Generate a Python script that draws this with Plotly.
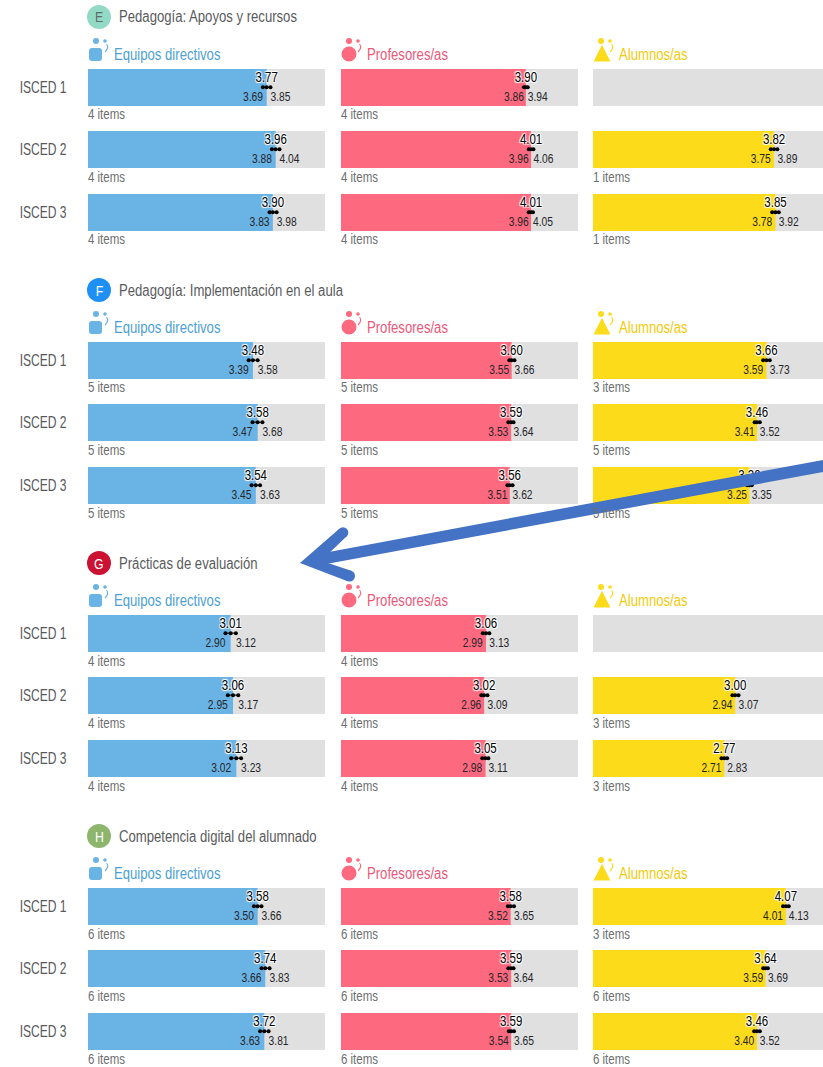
import plotly.graph_objects as go

W, H = 823, 1067
FONT = "Liberation Sans, sans-serif"

levels = ["ISCED 1", "ISCED 2", "ISCED 3"]
groups = ["Equipos directivos", "Profesores/as", "Alumnos/as"]
section_letters = ["E", "F", "G", "H"]
section_titles = ["Pedagogía: Apoyos y recursos", "Pedagogía: Implementación en el aula",
                  "Prácticas de evaluación", "Competencia digital del alumnado"]

e_mean = [[3.77, 3.96, 3.90], [3.90, 4.01, 4.01], [None, 3.82, 3.85]]
e_low = [[3.69, 3.88, 3.83], [3.86, 3.96, 3.96], [None, 3.75, 3.78]]
e_high = [[3.85, 4.04, 3.98], [3.94, 4.06, 4.05], [None, 3.89, 3.92]]
e_items = [[4, 4, 4], [4, 4, 4], [None, 1, 1]]

f_mean = [[3.48, 3.58, 3.54], [3.60, 3.59, 3.56], [3.66, 3.46, 3.30]]
f_low = [[3.39, 3.47, 3.45], [3.55, 3.53, 3.51], [3.59, 3.41, 3.25]]
f_high = [[3.58, 3.68, 3.63], [3.66, 3.64, 3.62], [3.73, 3.52, 3.35]]
f_items = [[5, 5, 5], [5, 5, 5], [3, 5, 5]]

g_mean = [[3.01, 3.06, 3.13], [3.06, 3.02, 3.05], [None, 3.00, 2.77]]
g_low = [[2.90, 2.95, 3.02], [2.99, 2.96, 2.98], [None, 2.94, 2.71]]
g_high = [[3.12, 3.17, 3.23], [3.13, 3.09, 3.11], [None, 3.07, 2.83]]
g_items = [[4, 4, 4], [4, 4, 4], [None, 3, 3]]

h_mean = [[3.58, 3.74, 3.72], [3.58, 3.59, 3.59], [4.07, 3.64, 3.46]]
h_low = [[3.50, 3.66, 3.63], [3.52, 3.53, 3.54], [4.01, 3.59, 3.40]]
h_high = [[3.66, 3.83, 3.81], [3.65, 3.64, 3.65], [4.13, 3.69, 3.52]]
h_items = [[6, 6, 6], [6, 6, 6], [3, 6, 6]]

means = [e_mean, f_mean, g_mean, h_mean]
lows = [e_low, f_low, g_low, h_low]
highs = [e_high, f_high, g_high, h_high]
items = [e_items, f_items, g_items, h_items]

# layout (pixels)
col_x = [88, 341, 593]
col_w = 237
row_tops = [69, 131, 194]
sec_step = 273
bar_h = 37
sec_badge = ["#93DAC6", "#1E8FF5", "#CB1233", "#8DB56C"]
badge_text = ["#5F6B68", "#FFFFFF", "#FFFFFF", "#FFFFFF"]
bar_col = ["#6AB3E5", "#FD697E", "#FCDB1A"]
head_col = ["#4E9FD3", "#E9597A", "#F2CB0C"]
AXIS_MAX = 5


def px(x):
    return x / W


def py(y):
    return 1 - y / H


shapes = []
annots = []
fig = go.Figure()


def circle(cx, cy, r, col):
    shapes.append(dict(type="circle", xref="paper", yref="paper", x0=px(cx - r), x1=px(cx + r),
                       y0=py(cy + r), y1=py(cy - r), fillcolor=col, line_width=0))


def path(d, fill=None, line=None, width=0):
    shapes.append(dict(type="path", xref="paper", yref="paper", path=d,
                       fillcolor=fill if fill else "rgba(0,0,0,0)",
                       line=dict(color=line if line else "rgba(0,0,0,0)", width=width)))


def pts(points, close=True):
    s = "M" + " L".join(f"{px(x):.5f},{py(y):.5f}" for x, y in points)
    return s + (" Z" if close else "")


def icon(col, x0, dy):
    c = bar_col[col]
    if col == 0:
        pad = 3
        ax, bx, ay, by = x0 + 1, x0 + 14, 48 + dy, 61 + dy
        d = (f"M{px(ax+pad):.5f},{py(ay):.5f} L{px(bx-pad):.5f},{py(ay):.5f} "
             f"Q{px(bx):.5f},{py(ay):.5f} {px(bx):.5f},{py(ay+pad):.5f} "
             f"L{px(bx):.5f},{py(by-pad):.5f} Q{px(bx):.5f},{py(by):.5f} {px(bx-pad):.5f},{py(by):.5f} "
             f"L{px(ax+pad):.5f},{py(by):.5f} Q{px(ax):.5f},{py(by):.5f} {px(ax):.5f},{py(by-pad):.5f} "
             f"L{px(ax):.5f},{py(ay+pad):.5f} Q{px(ax):.5f},{py(ay):.5f} {px(ax+pad):.5f},{py(ay):.5f} Z")
        path(d, fill=c)
    elif col == 1:
        circle(x0 + 8, 54 + dy, 7.5, c)
    else:
        path(pts([(x0 + 3, 60 + dy), (x0 + 15, 60 + dy), (x0 + 9, 48 + dy)]), fill=c, line=c, width=3)
    circle(x0 + 8, 41 + dy, 3, c)
    circle(x0 + 17, 41 + dy, 1.8, c)
    a = (x0 + 18.5, 44 + dy)
    b = (x0 + 21.5, 47.5 + dy)
    e = (x0 + 17, 52 + dy)
    path(f"M{px(a[0]):.5f},{py(a[1]):.5f} Q{px(b[0]):.5f},{py(b[1]):.5f} {px(e[0]):.5f},{py(e[1]):.5f}",
         line=c, width=1.1)


n = 0
for s in range(4):
    dy = s * sec_step
    circle(99, 17 + dy, 12, sec_badge[s])
    annots.append(dict(xref="paper", yref="paper", x=px(99), y=py(17 + dy), text=section_letters[s],
                       xanchor="center", yanchor="middle", showarrow=False,
                       font=dict(family=FONT, size=15, color=badge_text[s])))
    annots.append(dict(xref="paper", yref="paper", x=px(117), y=py(17 + dy), text=section_titles[s],
                       xanchor="left", yanchor="middle", showarrow=False,
                       font=dict(family=FONT, size=16, color="#5A5B5D")))
    for c in range(3):
        icon(c, col_x[c], dy)
        annots.append(dict(xref="paper", yref="paper", x=px(col_x[c] + 23.5), y=py(54.5 + dy),
                           text=groups[c], xanchor="left", yanchor="middle", showarrow=False,
                           font=dict(family=FONT, size=16, color=head_col[c])))
        for r in range(3):
            n += 1
            top = row_tops[r] + dy
            x1 = min(col_x[c] + col_w, W)
            xa = f"xaxis{n}"
            ya = f"yaxis{n}"
            xs = f"x{n}"
            ys = f"y{n}"
            fig.update_layout({
                xa: dict(domain=[px(col_x[c]), px(x1)], range=[0, AXIS_MAX * (x1 - col_x[c]) / col_w],
                         anchor=ys, visible=False, fixedrange=True, automargin=False),
                ya: dict(domain=[py(top + bar_h), py(top)], range=[0, 1], anchor=xs, fixedrange=True,
                         showgrid=False, zeroline=False, showline=False, automargin=False,
                         tickvals=[0.5], ticktext=[levels[r]] if c == 0 else [""],
                         ticks="outside" if c == 0 else "", ticklen=17, tickcolor="rgba(0,0,0,0)",
                         tickfont=dict(family=FONT, size=17, color="#58595B"),
                         showticklabels=c == 0),
            })
            m = means[s][c][r]
            if m is None:
                # no data: the grey track still shows
                fig.add_trace(go.Scatter(x=[None], y=[None], mode="markers", xaxis=xs, yaxis=ys, hoverinfo="skip"))
                continue
            lo, hi = lows[s][c][r], highs[s][c][r]
            fig.add_trace(go.Bar(x=[m], y=[0.5], width=[1], orientation="h", marker_color=bar_col[c],
                                 marker_line_width=0, xaxis=xs, yaxis=ys, hoverinfo="skip"))
            fig.add_trace(go.Scatter(x=[lo, m, hi], y=[0.51] * 3, mode="lines+markers", xaxis=xs, yaxis=ys,
                                     line=dict(color="#000", width=1), marker=dict(color="#000", size=4),
                                     hoverinfo="skip", cliponaxis=False))
            fig.add_trace(go.Scatter(x=[m], y=[0.75], mode="text", text=[f"{m:.2f}"], textposition="middle center",
                                     textfont=dict(family=FONT, size=14, color="#000",
                                                   shadow="1px 1px 1px #fff, -1px -1px 1px #fff, 1px -1px 1px #fff, -1px 1px 1px #fff"),
                                     xaxis=xs, yaxis=ys, hoverinfo="skip", cliponaxis=False))
            fig.add_trace(go.Scatter(x=[lo, hi], y=[0.21, 0.21], mode="text", text=[f"{lo:.2f}", f"{hi:.2f}"],
                                     textposition=["middle left", "middle right"],
                                     textfont=dict(family=FONT, size=12.5, color="#26262A"),
                                     xaxis=xs, yaxis=ys, hoverinfo="skip", cliponaxis=False))
            annots.append(dict(xref="paper", yref="paper", x=px(col_x[c] - 2), y=py(top + bar_h + 8.5),
                               text=f"{items[s][c][r]} items", xanchor="left", yanchor="middle", showarrow=False,
                               font=dict(family=FONT, size=14, color="#6D6E70")))

# overlay arrow
ARROW = "#4472C4"
path(pts([(823, 460), (823, 472), (310, 567), (310, 555.4)]), fill=ARROW)
path(pts([(300, 563), (339, 529), (347, 536), (325, 557), (325, 562), (352, 571), (347, 581)]), fill=ARROW)
circle(343, 532.5, 5.3, ARROW)
circle(349.5, 576, 5.5, ARROW)

fig.update_layout(
    width=W, height=H, autosize=False, margin=dict(l=0, r=0, t=0, b=0, pad=0),
    paper_bgcolor="#FFFFFF", plot_bgcolor="#E0E0E0", showlegend=False, barmode="overlay",
    shapes=shapes, annotations=annots,
)

# the reference's typeface is a condensed one: narrow the installed sans the same way
NARROW_JS = """
document.body.style.margin='0';
function narrow(){
  document.querySelectorAll('svg text').forEach(function(t){
    if(t.dataset.nr) return;
    var s=t.textContent.trim();
    if(!s) return;
    var k = s.indexOf('ISCED')===0 ? 0.71 : 0.82;
    var L = t.getComputedTextLength();
    t.setAttribute('textLength', L*k);
    t.setAttribute('lengthAdjust','spacingAndGlyphs');
    if(t.classList.contains('annotation-text') && s.length>1){
      var x = parseFloat(t.getAttribute('x'))||0;
      t.setAttribute('x', x - L*(1-k)/2);
    }
    t.dataset.nr='1';
  });
}
narrow(); setTimeout(narrow,50); setTimeout(narrow,300);
"""
fig.write_html("out.html", config=dict(displayModeBar=False), post_script=NARROW_JS)
